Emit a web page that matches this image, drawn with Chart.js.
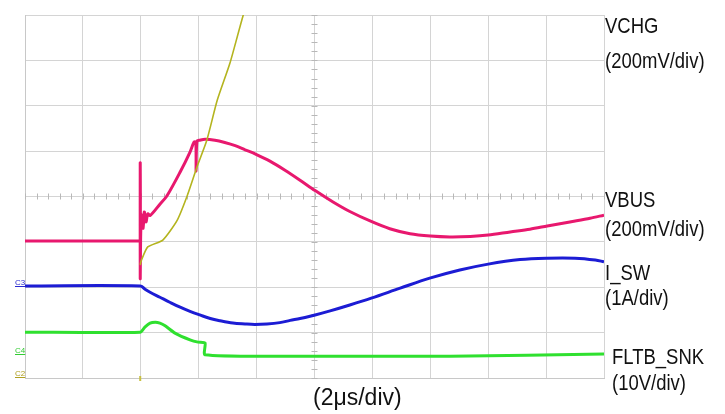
<!DOCTYPE html>
<html>
<head>
<meta charset="utf-8">
<script src="https://cdn.jsdelivr.net/npm/chart.js@4/dist/chart.umd.min.js"></script>
<style>
  html,body{margin:0;padding:0;background:#fff;}
  #wrap{position:relative;width:725px;height:414px;overflow:hidden;font-family:"Liberation Sans",Arial,sans-serif;}
  canvas{position:absolute;left:0;top:0;}
  .lbl{position:absolute;font-size:22px;line-height:22px;color:#111;white-space:nowrap;transform:scaleX(0.84);transform-origin:0 0;}
  .ch{position:absolute;font-size:8px;line-height:8px;white-space:nowrap;text-decoration:underline;}
</style>
</head>
<body>
<div id="wrap">
  <canvas id="c" width="725" height="414"></canvas>
  <div class="lbl" style="left:605px;top:15px;">VCHG</div>
  <div class="lbl" style="left:605px;top:50px;">(200mV/div)</div>
  <div class="lbl" style="left:605px;top:189px;">VBUS</div>
  <div class="lbl" style="left:605px;top:218px;">(200mV/div)</div>
  <div class="lbl" style="left:605px;top:262px;">I_SW</div>
  <div class="lbl" style="left:605px;top:287px;">(1A/div)</div>
  <div class="lbl" style="left:612px;top:346px;">FLTB_SNK</div>
  <div class="lbl" style="left:612px;top:372px;">(10V/div)</div>
  <div class="lbl" style="left:313px;top:386px;font-size:23px;line-height:23px;transform:none;">(2μs/div)</div>
  <div class="ch" style="left:15px;top:279px;color:#2a2ad0;">C3</div>
  <div class="ch" style="left:15px;top:347px;color:#33cc33;">C4</div>
  <div class="ch" style="left:15px;top:370px;color:#b0a020;">C2</div>
</div>
<script>
// x in horizontal divisions (2 µs/div), y in vertical divisions of the scope screen
const xDivisions = [0, 10];
const yDivisions = [0, 8];

const vbus = [
  [0,3.02],[1.97,3.02],[1.99,3.02],[1.99,4.74],[1.99,2.20],[2.00,3.26],[2.02,3.59],[2.04,3.30],
  [2.06,3.66],[2.09,3.44],[2.12,3.62],[2.16,3.58],[2.33,3.83],[2.45,4.01],[2.68,4.54],[2.85,4.98],
  [2.92,5.20],[2.95,5.20],[2.955,4.56],[2.97,5.22],[3.02,5.24],[3.11,5.26],[3.28,5.24],[3.45,5.19],
  [3.63,5.12],[3.80,5.03],[3.99,4.93],[4.23,4.78],[4.49,4.58],[4.75,4.36],[5.01,4.13],[5.32,3.88],
  [5.61,3.67],[5.98,3.45],[6.30,3.29],[6.65,3.18],[7.00,3.13],[7.34,3.11],[7.69,3.12],[8.00,3.15],
  [8.38,3.22],[8.72,3.28],[9.02,3.35],[9.41,3.44],[9.76,3.52],[10.0,3.59]
];
const vchg = [
  [1.99,2.49],[2.00,2.56],[2.12,2.89],[2.38,3.04],[2.63,3.48],[2.80,4.01],[2.97,4.65],
  [3.14,5.24],[3.32,6.12],[3.54,6.94],[3.77,8.00],[3.92,8.55]
];
const isw = [
  [0,2.03],[1.99,2.03],[2.07,1.96],[2.16,1.89],[2.33,1.78],[2.50,1.67],[2.68,1.56],[2.85,1.47],
  [3.02,1.39],[3.20,1.31],[3.37,1.26],[3.59,1.21],[3.80,1.19],[3.97,1.18],[4.18,1.19],[4.40,1.22],
  [4.58,1.27],[4.75,1.31],[5.01,1.39],[5.27,1.48],[5.61,1.61],[5.98,1.76],[6.48,1.98],[6.99,2.20],
  [7.51,2.38],[8.00,2.51],[8.55,2.61],[9.02,2.64],[9.50,2.64],[9.85,2.60],[10.0,2.56]
];
const fltb = [
  [0,1.01],[1.99,1.01],[2.07,1.12],[2.16,1.21],[2.25,1.23],[2.33,1.21],[2.42,1.15],[2.59,0.99],
  [2.85,0.84],[2.99,0.79],[3.11,0.77],[3.11,0.51],[4.75,0.48],[7.34,0.48],[10.0,0.53]
];

const toXY = a => a.map(p => ({x:p[0], y:p[1]}));

const crosshair = {
  id:'crosshair',
  beforeDatasetsDraw(chart){
    const {ctx, scales:{x,y}} = chart;
    const cx = x.getPixelForValue(5), cy = y.getPixelForValue(4);
    ctx.save();
    ctx.strokeStyle = '#b8b8b8';
    ctx.lineWidth = 1;
    ctx.beginPath();
    for(let v=0; v<=10.001; v+=0.2){
      const px = Math.round(x.getPixelForValue(v))+0.5;
      ctx.moveTo(px, cy-3); ctx.lineTo(px, cy+3);
    }
    for(let v=0; v<=8.001; v+=0.2){
      const py = Math.round(y.getPixelForValue(v))+0.5;
      ctx.moveTo(cx-3, py); ctx.lineTo(cx+3, py);
    }
    ctx.stroke();
    ctx.strokeStyle = '#c8c040';
    ctx.lineWidth = 2;
    const tx = x.getPixelForValue(1.99), by = y.getPixelForValue(0);
    ctx.beginPath(); ctx.moveTo(tx, by-2); ctx.lineTo(tx, by+3); ctx.stroke();
    ctx.restore();
  }
};

new Chart(document.getElementById('c'), {
  type:'scatter',
  data:{
    datasets:[
      {label:'FLTB_SNK', data:toXY(fltb), borderColor:'#2fe02f', borderWidth:3, showLine:true, pointRadius:0, tension:0.2},
      {label:'I_SW', data:toXY(isw), borderColor:'#1c1cd4', borderWidth:3, showLine:true, pointRadius:0, tension:0.35},
      {label:'VCHG', data:toXY(vchg), borderColor:'#b4b41e', borderWidth:1.6, showLine:true, pointRadius:0, tension:0.2},
      {label:'VBUS', data:toXY(vbus), borderColor:'#e8186e', borderWidth:3, showLine:true, pointRadius:0, tension:0.3}
    ]
  },
  options:{
    responsive:false,
    animation:false,
    layout:{padding:{left:25, top:15, right:121, bottom:36}},
    plugins:{legend:{display:false}, tooltip:{enabled:false}},
    scales:{
      x:{type:'linear', min:xDivisions[0], max:xDivisions[1],
         ticks:{display:false, stepSize:1},
         grid:{color:'#d4d4d4', drawTicks:false, lineWidth:1},
         border:{display:true, color:'#c8c8c8'}},
      y:{type:'linear', min:yDivisions[0], max:yDivisions[1],
         ticks:{display:false, stepSize:1},
         grid:{color:'#d4d4d4', drawTicks:false, lineWidth:1},
         border:{display:true, color:'#c8c8c8'}}
    }
  },
  plugins:[crosshair]
});
</script>
</body>
</html>
